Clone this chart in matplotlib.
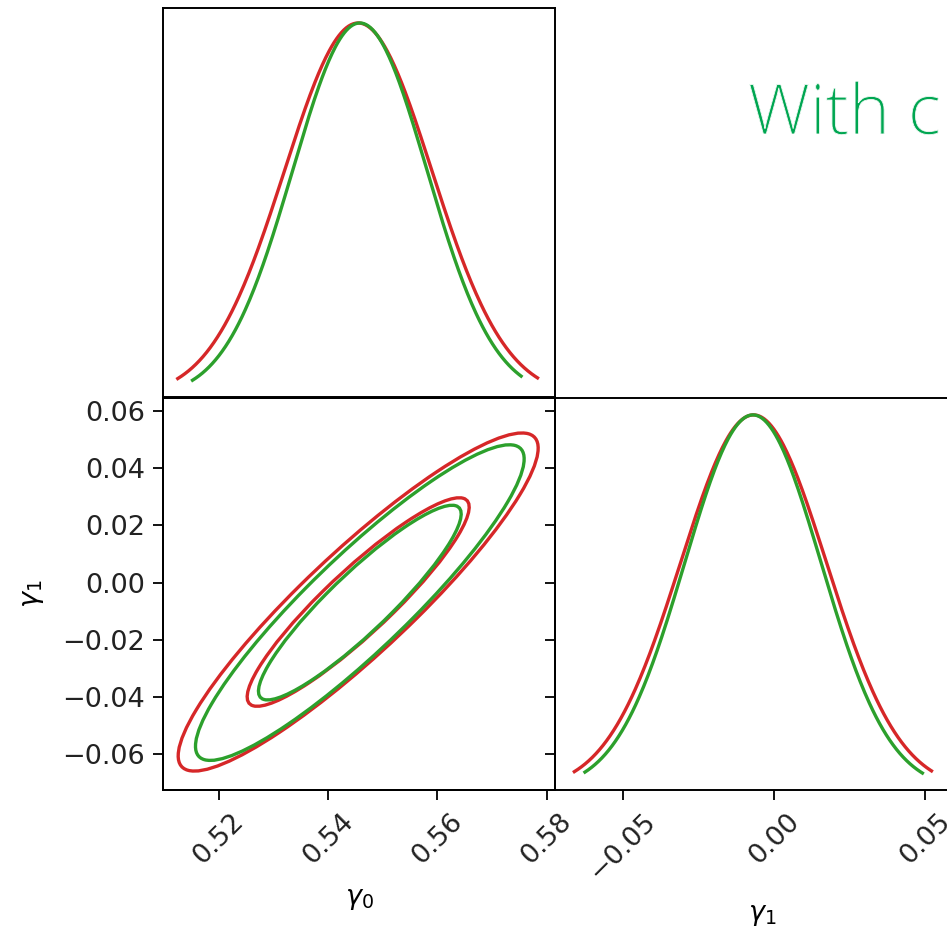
import numpy as np
import matplotlib
matplotlib.use('Agg')
import matplotlib.pyplot as plt
import matplotlib.patheffects as pe
from matplotlib.patches import Ellipse

# Posterior summaries (two chains: red and green)
chains = ['red', 'green']
colors = ['#d62728', '#2ca02c']
g0_mean = [0.5455, 0.5458]
g0_std = [0.01345, 0.01228]
g1_mean = [-0.0068, -0.0070]
g1_std = [0.0241, 0.0225]
corr = [0.91, 0.91]
# plotted range of the 1D marginals (sample extent)
g0_range = [(0.5125, 0.5783), (0.5152, 0.5753)]
g1_range = [(-0.0660, 0.0520), (-0.0625, 0.0490)]
contour_probs = [0.68, 0.95]

g0_ticks = [0.52, 0.54, 0.56, 0.58]
g1_ticks_y = [-0.06, -0.04, -0.02, 0.00, 0.02, 0.04, 0.06]
g1_ticks_x = [-0.05, 0.00, 0.05]
g0_lim = (0.5098, 0.5815)
g1_lim = (-0.0724, 0.0644)

title_text = 'With c'

plt.rcParams['font.size'] = 19.5
plt.rcParams['axes.linewidth'] = 1.4
plt.rcParams['text.color'] = '#222222'
for k in ['xtick', 'ytick']:
    plt.rcParams[k + '.major.size'] = 7
    plt.rcParams[k + '.major.width'] = 1.3
    plt.rcParams[k + '.major.pad'] = 6
    plt.rcParams[k + '.labelcolor'] = '#222222'

W, H = 947, 931
fig = plt.figure(figsize=(W / 100, H / 100), dpi=100)


def box(x0, y0, x1, y1):
    # pixel box (top-left origin) -> figure fraction rect
    return [x0 / W, 1 - y1 / H, (x1 - x0) / W, (y1 - y0) / H]


ax_top = fig.add_axes(box(163, 8, 555, 397))
ax_2d = fig.add_axes(box(163, 398, 555, 790))
ax_r = fig.add_axes(box(555, 398, 969, 790))


def gauss(x, m, s):
    return np.exp(-0.5 * ((x - m) / s) ** 2)


# 1D marginal of gamma_0
for i in range(len(chains)):
    x = np.linspace(g0_range[i][0], g0_range[i][1], 300)
    ax_top.plot(x, gauss(x, g0_mean[i], g0_std[i]), color=colors[i], lw=2.4)
ax_top.set_xlim(g0_lim)
ax_top.set_ylim(0, 1.04)
ax_top.set_xticks([])
ax_top.set_yticks([])

# 1D marginal of gamma_1
for i in range(len(chains)):
    x = np.linspace(g1_range[i][0], g1_range[i][1], 300)
    ax_r.plot(x, gauss(x, g1_mean[i], g1_std[i]), color=colors[i], lw=2.4)
ax_r.set_xlim(g1_lim)
ax_r.set_ylim(0, 1.045)
ax_r.set_yticks([])
ax_r.set_xticks(g1_ticks_x)
ax_r.set_xticklabels(['\u22120.05', '0.00', '0.05'], rotation=45)
ax_r.set_xlabel(r'$\gamma_1$', labelpad=12)

# 2D contours
for i in range(len(chains)):
    cov = np.array([[g0_std[i] ** 2, corr[i] * g0_std[i] * g1_std[i]],
                    [corr[i] * g0_std[i] * g1_std[i], g1_std[i] ** 2]])
    vals, vecs = np.linalg.eigh(cov)
    ang = np.degrees(np.arctan2(vecs[1, 1], vecs[0, 1]))
    for p in contour_probs:
        r = np.sqrt(-2 * np.log(1 - p))
        e = Ellipse((g0_mean[i], g1_mean[i]), 2 * r * np.sqrt(vals[1]),
                    2 * r * np.sqrt(vals[0]), angle=ang, fill=False,
                    edgecolor=colors[i], lw=2.4)
        ax_2d.add_patch(e)
ax_2d.set_xlim(g0_lim)
ax_2d.set_ylim(g1_lim)
ax_2d.set_xticks(g0_ticks)
ax_2d.set_xticklabels(['%.2f' % t for t in g0_ticks], rotation=45)
ax_2d.set_yticks(g1_ticks_y)
ax_2d.set_yticklabels([('%.2f' % t).replace('-', '\u2212') for t in g1_ticks_y])
ax_2d.set_xlabel(r'$\gamma_0$', labelpad=12)
ax_2d.set_ylabel(r'$\gamma_1$', labelpad=12)

# inward ticks on the right edge of the 2D panel
tw = ax_2d.twinx()
tw.set_ylim(g1_lim)
tw.set_yticks(g1_ticks_y)
tw.tick_params(direction='in', labelright=False)

# thin-looking title: white outline eats a little into the glyphs
fig.text(748 / W, 1 - 134 / H, title_text, color='#00a651', fontsize=50,
         family=['Open Sans', 'DejaVu Sans'], fontweight='light', va='baseline',
         path_effects=[pe.Normal(), pe.Stroke(linewidth=0.6, foreground='white')])

fig.savefig('out.png', dpi=100)
